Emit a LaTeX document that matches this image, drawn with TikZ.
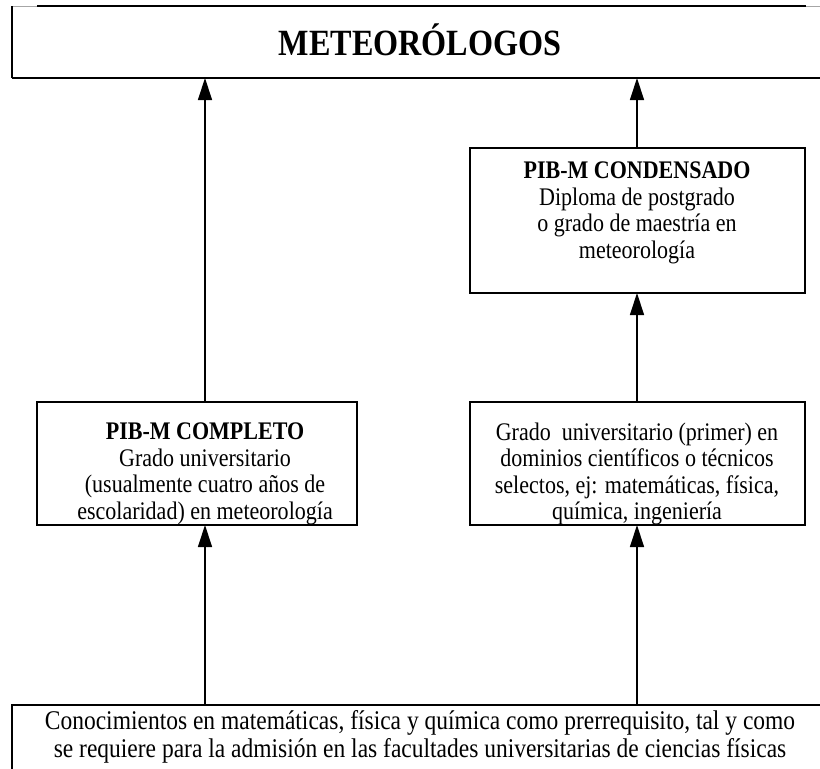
\documentclass[tikz,border=0pt]{standalone}
\usepackage{fontspec}
\setmainfont[FakeStretch=0.87]{Liberation Serif}
\usetikzlibrary{arrows.meta}
\begin{document}
\begin{tikzpicture}[x=1pt,y=-1pt,
  frame/.style={draw=black, line width=1.6pt},
  faint/.style={draw=black!35, line width=0.8pt},
  body/.style={font=\fontsize{25.3}{26.5}\selectfont, align=center},
  link/.style={line width=1.3pt, -{Triangle[length=22pt,width=14pt]}}]
\useasboundingbox (0,0) rectangle (820,769);
% outer boxes, open towards the page edges
\draw[faint] (12,6) -- (37,6);
\draw[faint] (806,6) -- (820,6);
\draw[frame] (12,78) -- (12,6);
\draw[frame] (37,6) -- (806,6);
\draw[frame] (12,78) -- (822,78);
\draw[frame] (12,771) -- (12,705) -- (822,705);
\node[font=\fontsize{37}{40}\bfseries] (top) at (420,40) {METEORÓLOGOS};
\coordinate (topL) at (205,78);
\coordinate (topR) at (637,78);
\coordinate (botL) at (205,705);
\coordinate (botR) at (637,705);
\node[align=center, font=\fontsize{27}{28.5}\selectfont] (base) at (420,737) {Conocimientos en matemáticas, física y química como prerrequisito, tal y como\\se requiere para la admisión en las facultades universitarias de ciencias físicas};
% inner boxes
\draw[frame] (470,148) rectangle (805,293);
\node[body] (cond) at (637,213) {\textbf{PIB-M CONDENSADO}\\Diploma de postgrado\\o grado de maestría en\\meteorología};
\draw[frame] (37,402) rectangle (357,525);
\node[body] (comp) at (205,474) {\textbf{PIB-M COMPLETO}\\Grado universitario\\(usualmente cuatro años de\\escolaridad) en meteorología};
\draw[frame] (470,402) rectangle (805,525);
\node[body] (grad) at (637,474) {Grado\ \ universitario (primer) en\\dominios científicos o técnicos\\selectos, ej: matemáticas, física,\\química, ingeniería};
\coordinate (condT) at (637,148);
\coordinate (condB) at (637,293);
\coordinate (compT) at (205,402);
\coordinate (compB) at (205,525);
\coordinate (gradT) at (637,402);
\coordinate (gradB) at (637,525);
% arrows
\draw[link] (compT) -- (topL);
\draw[link] (condT) -- (topR);
\draw[link] (gradT) -- (condB);
\draw[link] (botL) -- (compB);
\draw[link] (botR) -- (gradB);
\end{tikzpicture}
\end{document}
